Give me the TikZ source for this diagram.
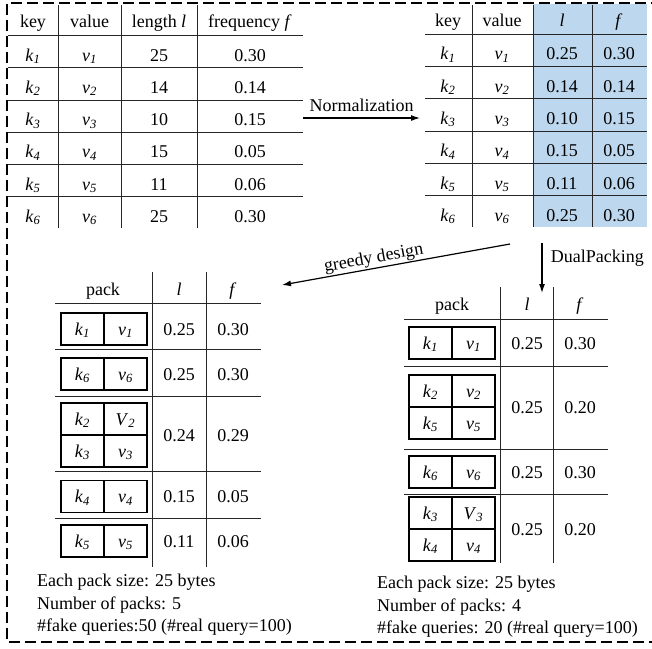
\documentclass[tikz,border=0pt]{standalone}
\usepackage{fontspec}
\setmainfont{Liberation Serif}
\usetikzlibrary{arrows.meta, positioning}
\definecolor{normblue}{RGB}{189,215,238}
\newcommand{\kv}[2]{\textit{#1}\textsubscript{\textit{#2}}}

\begin{document}
\begin{tikzpicture}[
  x=1pt, y=-1pt,
  >={Latex[length=9pt,width=6pt]},
  every node/.style={font=\fontsize{18}{21}\selectfont},
  frame line/.style={line width=1.6pt, dash pattern=on 11pt off 5pt},
  grid line/.style={line width=1pt, black!85},
  cell/.style={inner sep=0pt, text height=12pt, text depth=0pt},
  kvbox/.style={cell, draw, line width=1.3pt, minimum width=43pt, minimum height=32pt},
  flow/.style={->, line width=1.2pt},
  note/.style={anchor=base west, inner sep=0pt},
]
  \useasboundingbox (0,0) rectangle (652,648);
  \draw[frame line] (662,3) -- (7,3) -- (7,642) -- (662,642);

  % raw table
  \foreach \i in {0,...,5}
    \draw[grid line] (8,35.7+32.2*\i) -- (303,35.7+32.2*\i);
  \foreach \x in {58,121,197}
    \draw[grid line] (\x,5) -- (\x,228);
  \node[cell] (raw-hk) at (33,21.5) {key};
  \node[cell] (raw-hv) at (89.5,21.5) {value};
  \node[cell] (raw-hl) at (159,21.5) {length \textit{l}};
  \node[cell] (raw-hf) at (250,21.5) {frequency \textit{f}};
  \foreach \l/\f [count=\i, evaluate=\i as \y using 35.7+32.2*(\i-1)+19.5]
      in {25/0.30, 14/0.14, 10/0.15, 15/0.05, 11/0.06, 25/0.30} {
    \node[cell] (raw-k\i) at (33,\y) {\kv{k}{\i}};
    \node[cell] (raw-v\i) at (89.5,\y) {\kv{v}{\i}};
    \node[cell] (raw-l\i) at (159,\y) {\l};
    \node[cell] (raw-f\i) at (250,\y) {\f};
  }

  % normalized table
  \fill[normblue] (533,4) rectangle (647,227);
  \foreach \i in {0,...,5}
    \draw[grid line] (425,34.3+32.3*\i) -- (647,34.3+32.3*\i);
  \foreach \x in {472,533,592}
    \draw[grid line] (\x,5) -- (\x,227);
  \node[cell] (nrm-hk) at (448,20.7) {key};
  \node[cell] (nrm-hv) at (502,20.7) {value};
  \node[cell] (nrm-hl) at (562,20.7) {\textit{l}};
  \node[cell] (nrm-hf) at (619,20.7) {\textit{f}};
  \foreach \l/\f [count=\i, evaluate=\i as \y using 34.3+32.3*(\i-1)+19.5]
      in {0.25/0.30, 0.14/0.14, 0.10/0.15, 0.15/0.05, 0.11/0.06, 0.25/0.30} {
    \node[cell] (nrm-k\i) at (448,\y) {\kv{k}{\i}};
    \node[cell] (nrm-v\i) at (502,\y) {\kv{v}{\i}};
    \node[cell] (nrm-l\i) at (562,\y) {\l};
    \node[cell] (nrm-f\i) at (619,\y) {\f};
  }

  % arrows between the tables
  \coordinate (norm-a) at (303,118);
  \coordinate (norm-b) at (420,118);
  \draw[flow] (norm-a) -- node[above=2pt] (norm-lbl) {Normalization} (norm-b);
  \coordinate (greedy-a) at (510,244);
  \coordinate (greedy-b) at (282,285);
  \draw[flow] (greedy-a) -- node[pos=0.59, sloped, above, inner sep=1pt] (greedy-lbl) {greedy design} (greedy-b);
  \coordinate (dual-a) at (542,243);
  \coordinate (dual-b) at (542,293);
  \draw[flow] (dual-a) -- node[pos=0.3, right=5pt] (dual-lbl) {DualPacking} (dual-b);

  % greedy packs
  \foreach \y in {303,349,396,471,518}
    \draw[grid line] (55,\y) -- (261,\y);
  \foreach \x in {152,206}
    \draw[grid line] (\x,272) -- (\x,567);
  \node[cell] (gr-hp) at (103,289) {pack};
  \node[cell] (gr-hl) at (179,289) {\textit{l}};
  \node[cell] (gr-hf) at (233,289) {\textit{f}};
  \foreach \k/\l/\f/\y in {1/0.25/0.30/329, 6/0.25/0.30/374, 4/0.15/0.05/496.5, 5/0.11/0.06/541} {
    \node[kvbox] (gr-k\k) at (82.5,\y) {\kv{k}{\k}};
    \node[kvbox] (gr-v\k) at (125.5,\y) {\kv{v}{\k}};
    \node[cell] (gr-l\k) at (179,\y) {\l};
    \node[cell] (gr-f\k) at (233,\y) {\f};
  }
  \node[kvbox] (gr-k2) at (82.5,419) {\kv{k}{2}};
  \node[kvbox] (gr-v2) at (125.5,419) {\kv{V}{2}};
  \node[kvbox] (gr-k3) at (82.5,451) {\kv{k}{3}};
  \node[kvbox] (gr-v3) at (125.5,451) {\kv{v}{3}};
  \node[cell] (gr-l23) at (179,435) {0.24};
  \node[cell] (gr-f23) at (233,435) {0.29};
  \node[note] (gr-n1) at (37,586) {Each pack size: 25 bytes};
  \node[note] (gr-n2) at (37,609) {Number of packs: 5};
  \node[note] (gr-n3) at (37,631) {\#fake queries:50 (\#real query=100)};

  % dual packs
  \foreach \y in {319,366,449,494}
    \draw[grid line] (404,\y) -- (608,\y);
  \foreach \x in {500,553}
    \draw[grid line] (\x,287) -- (\x,563);
  \node[cell] (dp-hp) at (452,304) {pack};
  \node[cell] (dp-hl) at (527,304) {\textit{l}};
  \node[cell] (dp-hf) at (580,304) {\textit{f}};
  \foreach \k/\y in {1/343, 6/472} {
    \node[kvbox] (dp-k\k) at (430.5,\y) {\kv{k}{\k}};
    \node[kvbox] (dp-v\k) at (473.5,\y) {\kv{v}{\k}};
    \node[cell] (dp-l\k) at (527,\y) {0.25};
    \node[cell] (dp-f\k) at (580,\y) {0.30};
  }
  \node[kvbox] (dp-k2) at (430.5,391) {\kv{k}{2}};
  \node[kvbox] (dp-v2) at (473.5,391) {\kv{v}{2}};
  \node[kvbox] (dp-k5) at (430.5,423) {\kv{k}{5}};
  \node[kvbox] (dp-v5) at (473.5,423) {\kv{v}{5}};
  \node[cell] (dp-l25) at (527,407) {0.25};
  \node[cell] (dp-f25) at (580,407) {0.20};
  \node[kvbox] (dp-k3) at (430.5,513) {\kv{k}{3}};
  \node[kvbox] (dp-v3) at (473.5,513) {\kv{V}{3}};
  \node[kvbox] (dp-k4) at (430.5,545) {\kv{k}{4}};
  \node[kvbox] (dp-v4) at (473.5,545) {\kv{v}{4}};
  \node[cell] (dp-l34) at (527,529) {0.25};
  \node[cell] (dp-f34) at (580,529) {0.20};
  \node[note] (dp-n1) at (377,588) {Each pack size: 25 bytes};
  \node[note] (dp-n2) at (377,611) {Number of packs: 4};
  \node[note] (dp-n3) at (377,633) {\#fake queries: 20 (\#real query=100)};
\end{tikzpicture}
\end{document}
